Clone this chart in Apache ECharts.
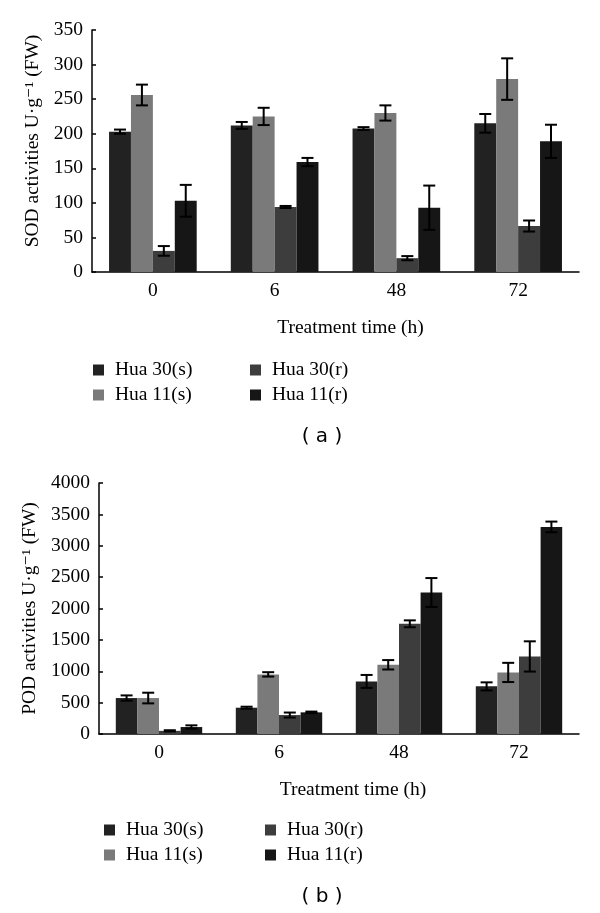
<!DOCTYPE html>
<html>
<head>
<meta charset="utf-8">
<script src="https://cdn.jsdelivr.net/npm/echarts@6/dist/echarts.min.js"></script>
<style>
  html, body { margin: 0; padding: 0; background: #fff; }
  #chart { width: 600px; height: 913px; }
</style>
</head>
<body>
<div id="chart"></div>
<script>
// 处理时间
var hours = ['0', '6', '48', '72'];
var seriesNames = ['Hua 30(s)', 'Hua 11(s)', 'Hua 30(r)', 'Hua 11(r)'];
var barColors = ['#222222', '#7a7a7a', '#3d3d3d', '#161616'];

// (a) SOD
var sodHua30s = [203, 212, 207.5, 215];
var sodHua11s = [256, 225, 230, 279];
var sodHua30r = [30.5, 94, 20, 66.5];
var sodHua11r = [103, 159, 93, 189];
var sodErr30s = [3, 5, 2, 13.5];
var sodErr11s = [15, 12.5, 11, 30];
var sodErr30r = [7, 1.5, 3, 8];
var sodErr11r = [23, 6, 32, 24];

// (b) POD
var podHua30s = [573, 419, 838, 759];
var podHua11s = [573, 950, 1103, 981];
var podHua30r = [50, 302, 1756, 1236];
var podHua11r = [111, 345, 2255, 3300];
var podErr30s = [42, 16, 103, 64];
var podErr11s = [85, 35, 75, 153];
var podErr30r = [10, 40, 55, 241];
var podErr11r = [27, 12, 230, 85];

var serif = '"Liberation Serif", "DejaVu Serif", serif';
var fs = 19.5;
var catGap = 0.28;

var myChart = echarts.init(document.getElementById('chart'));

// 误差线
function errRender(k) {
    return function (params, api) {
        var x = api.value(0), v = api.value(1), e = api.value(2);
        var bandW = api.size([1, 0])[0];
        var barW = bandW * (1 - catGap) / 4;
        var cx = api.coord([x, v])[0] + (k - 1.5) * barW;
        var yTop = api.coord([x, v + e])[1];
        var yBot = api.coord([x, v - e])[1];
        var cap = 6;
        var st = { stroke: '#000', lineWidth: 2 };
        return {
            type: 'group',
            children: [
                { type: 'line', shape: { x1: cx, y1: yTop, x2: cx, y2: yBot }, style: st },
                { type: 'line', shape: { x1: cx - cap, y1: yTop, x2: cx + cap, y2: yTop }, style: st },
                { type: 'line', shape: { x1: cx - cap, y1: yBot, x2: cx + cap, y2: yBot }, style: st }
            ]
        };
    };
}

function errData(vals, errs) {
    return vals.map(function (v, i) { return [i, v, errs[i]]; });
}

function makeSeries(idx, valsList, errsList) {
    var out = [];
    valsList.forEach(function (vals, k) {
        out.push({
            name: seriesNames[k],
            type: 'bar',
            xAxisIndex: idx,
            yAxisIndex: idx,
            data: vals,
            barGap: '0%',
            barCategoryGap: (catGap * 100) + '%',
            itemStyle: { color: barColors[k] },
            z: 2
        });
    });
    valsList.forEach(function (vals, k) {
        out.push({
            type: 'custom',
            xAxisIndex: idx,
            yAxisIndex: idx,
            renderItem: errRender(k),
            data: errData(vals, errsList[k]),
            encode: { x: 0, y: 1 },
            z: 5
        });
    });
    return out;
}

function xAxisCfg(gridIndex, namePad) {
    return {
        type: 'category',
        gridIndex: gridIndex,
        data: hours,
        name: 'Treatment time (h)',
        nameLocation: 'middle',
        nameGap: 46,
        nameTextStyle: { fontFamily: serif, fontSize: fs, color: '#000', padding: [0, 0, 0, namePad] },
        axisLine: { lineStyle: { color: '#000', width: 1.5 } },
        axisTick: { inside: true, length: 5, lineStyle: { color: '#000', width: 1.5 } },
        axisLabel: { fontFamily: serif, fontSize: fs, color: '#000', margin: 9 }
    };
}

function yAxisCfg(gridIndex, name, max, interval, gap, pad) {
    return {
        type: 'value',
        gridIndex: gridIndex,
        min: 0,
        max: max,
        interval: interval,
        name: name,
        nameLocation: 'middle',
        nameGap: gap,
        nameTextStyle: { fontFamily: serif, fontSize: fs, color: '#000', padding: [0, 0, 0, pad] },
        splitLine: { show: false },
        axisLine: { show: true, lineStyle: { color: '#000', width: 1.5 } },
        axisTick: { show: true, inside: true, length: 4, lineStyle: { color: '#000', width: 1.5 } },
        axisLabel: {
            fontFamily: serif, fontSize: fs, color: '#000', margin: 9,
            formatter: function (v) { return String(v); }
        }
    };
}

function legendCfg(names, left, top) {
    return {
        data: names,
        orient: 'vertical',
        left: left,
        top: top,
        itemWidth: 11,
        itemHeight: 11,
        itemGap: 5,
        icon: 'rect',
        selectedMode: false,
        textStyle: { fontFamily: serif, fontSize: fs, color: '#000', padding: [0, 0, 0, 6] }
    };
}

var option = {
    animation: false,
    grid: [
        { left: 92, top: 30, width: 487, height: 242 },
        { left: 99, top: 483, width: 480, height: 251 }
    ],
    xAxis: [xAxisCfg(0, 30), xAxisCfg(1, 28)],
    yAxis: [
        yAxisCfg(0, 'SOD activities U·g⁻¹ (FW)', 350, 50, 48, 20),
        yAxisCfg(1, 'POD activities U·g⁻¹ (FW)', 4000, 500, 53, 0)
    ],
    legend: [
        legendCfg(['Hua 30(s)', 'Hua 11(s)'], 88, 355),
        legendCfg(['Hua 30(r)', 'Hua 11(r)'], 245, 355),
        legendCfg(['Hua 30(s)', 'Hua 11(s)'], 99, 815),
        legendCfg(['Hua 30(r)', 'Hua 11(r)'], 260, 815)
    ],
    graphic: [
        { type: 'text', x: 322, y: 437, style: { text: '( a )', font: '20px "DejaVu Sans", sans-serif', fill: '#000', textAlign: 'center', textVerticalAlign: 'middle' } },
        { type: 'text', x: 322, y: 897, style: { text: '( b )', font: '20px "DejaVu Sans", sans-serif', fill: '#000', textAlign: 'center', textVerticalAlign: 'middle' } }
    ],
    series: makeSeries(0,
        [sodHua30s, sodHua11s, sodHua30r, sodHua11r],
        [sodErr30s, sodErr11s, sodErr30r, sodErr11r]
    ).concat(makeSeries(1,
        [podHua30s, podHua11s, podHua30r, podHua11r],
        [podErr30s, podErr11s, podErr30r, podErr11r]
    ))
};

myChart.setOption(option);
</script>
</body>
</html>
